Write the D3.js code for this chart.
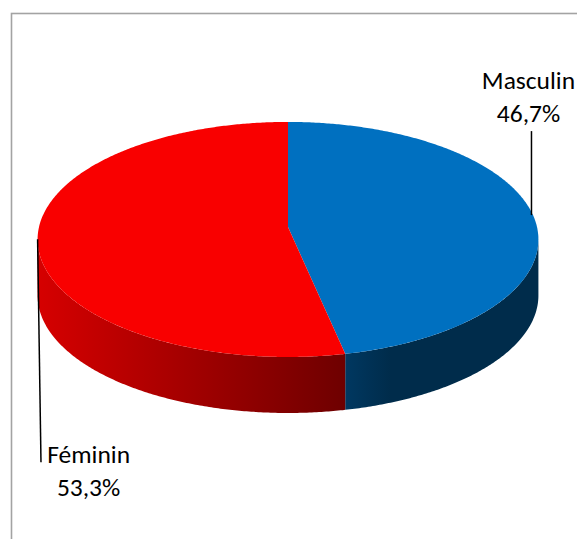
<!DOCTYPE html>
<meta charset="utf-8">
<script src="https://d3js.org/d3.v7.min.js"></script>
<style>
  body { margin: 0; background: #fff; }
  text { font-family: Carlito, "Open Sans", sans-serif; fill: #000; }
</style>
<div id="chart"></div>
<script>

// data
var categories = ["Masculin", "Féminin"];
var values = [46.7, 53.3];
var valueLabels = ["46,7%", "53,3%"];

var topColors = ["#0070c0", "#f90000"];
// side wall gradient stops, left to right
var sideColors = [["#003861", "#002c4b"], ["#d60000", "#6e0000"]];

var width = 577, height = 539;

// projected 3d disc: centre, radii, perspective and depth
var cx = 288, cy = 227, rx = 249, ry = 116.2, k = 0.106, depth = 56;

var svg = d3.select("#chart").append("svg")
  .attr("width", width)
  .attr("height", height);

// chart frame (runs past the window on the right and bottom)
svg.append("rect")
  .attr("x", 11.5).attr("y", 13.5)
  .attr("width", 620).attr("height", 600)
  .attr("fill", "none")
  .attr("stroke", "#a3a3a3")
  .attr("stroke-width", 1.6);

function project(a, dy) {
  var u = Math.sin(a), v = -Math.cos(a);
  var w = 1 - k * v;
  return [cx + rx * u / w, cy + ry * v / w + (dy || 0)];
}

function arcPoints(a0, a1, dy) {
  var n = Math.max(2, Math.ceil((a1 - a0) / (Math.PI / 360)));
  return d3.range(n + 1).map(function(i) { return project(a0 + (a1 - a0) * i / n, dy); });
}

var pie = d3.pie().sort(null).value(function(d) { return d; });
var slices = pie(values);

var line = d3.line();
var defs = svg.append("defs");

// front wall is visible where the outward normal faces the viewer
var aMin = Math.acos(-k), aMax = 2 * Math.PI - Math.acos(-k);

// side walls
slices.forEach(function(s, i) {
  var a0 = Math.max(s.startAngle, aMin), a1 = Math.min(s.endAngle, aMax);
  if (a1 <= a0) return;
  var top = arcPoints(a0, a1, 0);
  var bottom = arcPoints(a0, a1, depth).reverse();
  var xs = top.map(function(p) { return p[0]; });
  var x0 = d3.min(xs), x1 = d3.max(xs);

  var grad = defs.append("linearGradient")
    .attr("id", "side" + i)
    .attr("gradientUnits", "userSpaceOnUse")
    .attr("x1", x0).attr("x2", i === 0 ? x0 + 45 : x1)
    .attr("y1", 0).attr("y2", 0);
  grad.append("stop").attr("offset", 0).attr("stop-color", sideColors[i][0]);
  grad.append("stop").attr("offset", 1).attr("stop-color", sideColors[i][1]);

  svg.append("path")
    .attr("d", line(top.concat(bottom)) + "Z")
    .attr("fill", "url(#side" + i + ")");
});

// top faces
slices.forEach(function(s, i) {
  var pts = [[cx, cy]].concat(arcPoints(s.startAngle, s.endAngle, 0));
  svg.append("path")
    .attr("d", line(pts) + "Z")
    .attr("fill", topColors[i]);
});

// data labels with leader lines
var labelStyle = [
  { dy: -84, dx: -1.5, tx: -4.5, ty: -125.7 },
  { dy: 223, dx: 3.4, tx: 51, ty: 223.7 }
];

slices.forEach(function(s, i) {
  var mid = (s.startAngle + s.endAngle) / 2;
  var p = project(mid, 0);
  var st = labelStyle[i];
  svg.append("line")
    .attr("x1", p[0] + (i === 0 ? st.dx : 0)).attr("y1", p[1])
    .attr("x2", p[0] + st.dx).attr("y2", p[1] + st.dy)
    .attr("stroke", "#000")
    .attr("stroke-width", 1.5);

  var t = svg.append("text")
    .attr("text-anchor", "middle")
    .attr("font-size", 25.5)
    .attr("x", p[0] + st.tx)
    .attr("y", p[1] + st.ty);
  t.append("tspan").attr("x", p[0] + st.tx).text(categories[i]);
  t.append("tspan").attr("x", p[0] + st.tx).attr("dy", 33).text(valueLabels[i]);
});

</script>
